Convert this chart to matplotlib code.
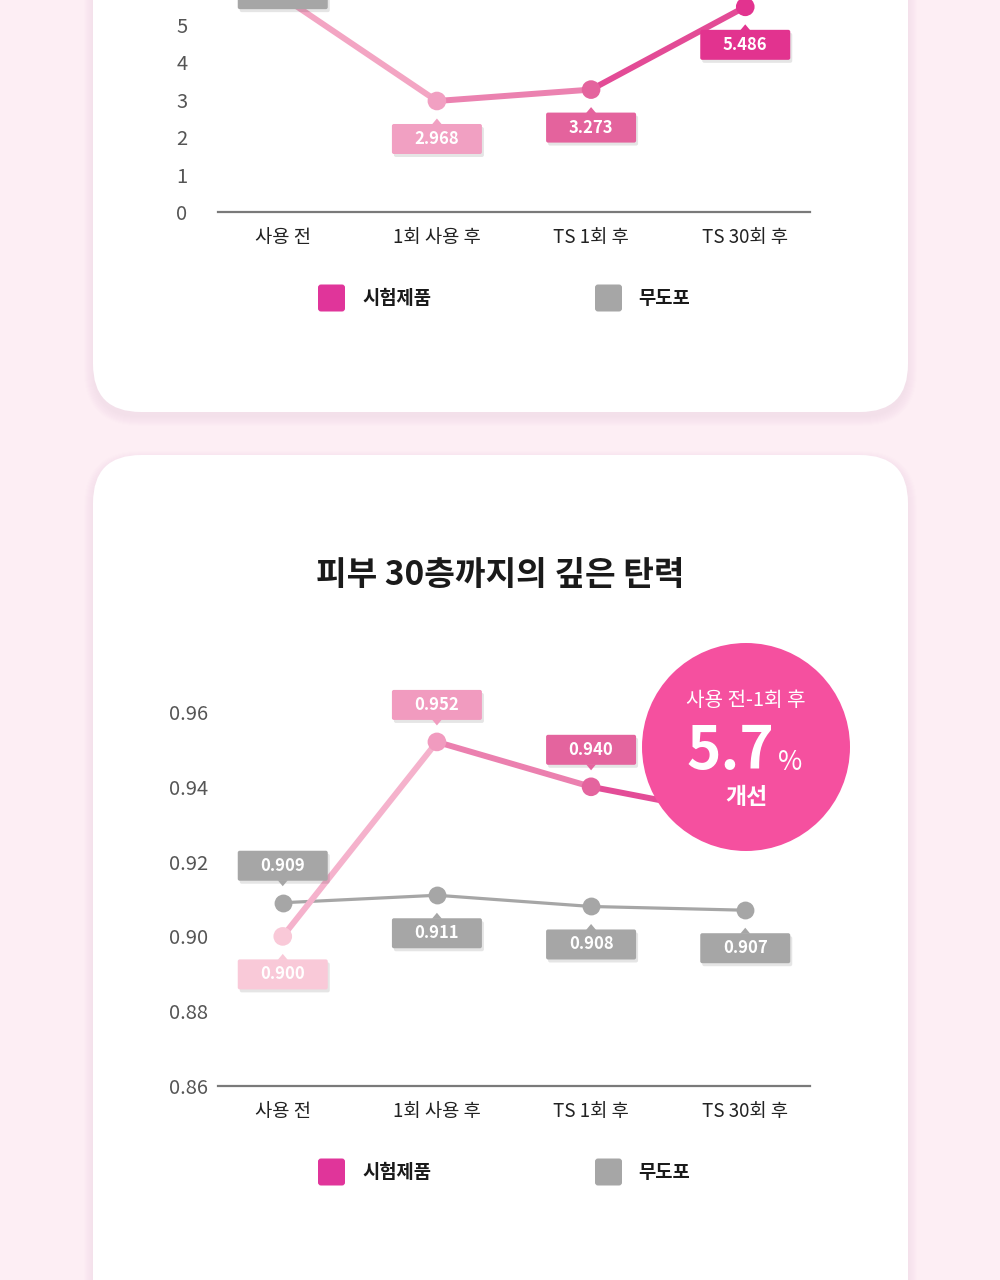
import numpy as np
import matplotlib.pyplot as plt
from matplotlib.patches import FancyBboxPatch, Polygon, Circle

plt.rcParams['font.family'] = ['Noto Sans CJK KR', 'DejaVu Sans']

W, H = 1000, 1280

# data
categories = ['사용 전', '1회 사용 후', 'TS 1회 후', 'TS 30회 후']
legend_labels = ['시험제품', '무도포']

# upper chart (cut off by the top edge of the picture)
top_product = [5.75, 2.968, 3.273, 5.486]
top_control = [6.841, np.nan, np.nan, np.nan]
top_yticks = [0, 1, 2, 3, 4, 5]

# lower chart
title = '피부 30층까지의 깊은 탄력'
bottom_product = [0.900, 0.952, 0.940, 0.932]
bottom_control = [0.909, 0.911, 0.908, 0.907]
bottom_yticks = [0.86, 0.88, 0.90, 0.92, 0.94, 0.96]

badge_top = '사용 전-1회 후'
badge_value = '5.7'
badge_bottom = '개선'

# colours
bg_color = '#fdeef4'
product_color = '#e0359a'
control_color = '#a6a6a6'
top_point_colors = ['#f4aac5', '#f1a0c2', '#e4639d', '#e2338f']
bottom_point_colors = ['#f9c9d8', '#f19bbf', '#e4649e', '#e2338f']
badge_color = '#f5509f'


def px_axes(x0, y0, x1, y1, **kw):
    # axes placed in pixel coords measured from the top-left corner
    return fig.add_axes([x0 / W, 1 - y1 / H, (x1 - x0) / W, (y1 - y0) / H], **kw)


fig = plt.figure(figsize=(W / 100, H / 100), dpi=100)
fig.patch.set_facecolor(bg_color)

# background cards
bg = px_axes(0, 0, W, H)
bg.set_xlim(0, W)
bg.set_ylim(H, 0)
bg.axis('off')


def card(y0, y1):
    for i in range(10):
        bg.add_patch(FancyBboxPatch((93 - i, y0 + 5 - i), 815 + 2 * i, y1 - y0 + 2 * i,
                                    boxstyle='round,pad=0,rounding_size=%d' % (48 + i),
                                    fc='#eebccd', ec='none', alpha=0.025))
    bg.add_patch(FancyBboxPatch((93, y0), 815, y1 - y0,
                                boxstyle='round,pad=0,rounding_size=48',
                                fc='white', ec='none'))


card(-150, 412)
card(455, 1330)

bg.text(500, 576, title, ha='center', va='center', fontsize=24, fontweight='bold', color='#1a1a1a')


def setup_axes(ax, ylim, yticks, labels, ypad):
    ax.set_facecolor('none')
    ax.set_xlim(-0.42, 3.42)
    ax.set_ylim(*ylim)
    ax.set_yticks(yticks)
    ax.set_yticklabels(labels, fontsize=14.5, color='#555555')
    ax.set_xticks(range(len(categories)))
    ax.set_xticklabels(categories, fontsize=13.5, color='#222222', fontweight='medium')
    ax.tick_params(axis='both', length=0)
    ax.tick_params(axis='x', pad=11)
    ax.tick_params(axis='y', pad=ypad)
    for s in ['top', 'left', 'right']:
        ax.spines[s].set_visible(False)
    ax.spines['bottom'].set_color('#7a7a7a')
    ax.spines['bottom'].set_linewidth(1.6)


def draw_lines(ax, product, control, point_colors):
    x = np.arange(len(categories))
    ax.plot(x, control, color=control_color, lw=2.3, zorder=2)
    ax.scatter(x, control, s=165, color=control_color, zorder=3, lw=0)
    for i in range(len(x) - 1):
        c = np.mean([np.array(plt.matplotlib.colors.to_rgb(point_colors[i])),
                     np.array(plt.matplotlib.colors.to_rgb(point_colors[i + 1]))], axis=0)
        ax.plot(x[i:i + 2], product[i:i + 2], color=c, lw=4.3, zorder=4, solid_capstyle='round')
    ax.scatter(x, product, s=180, c=point_colors, zorder=5, lw=0)


# upper chart: 0 at y=212, 37.4 px per unit
ax1 = px_axes(218, 212 - 7.5 * 37.4, 810, 212)
setup_axes(ax1, (0, 7.5), top_yticks, [str(t) for t in top_yticks], 22)
draw_lines(ax1, top_product, top_control, top_point_colors)

# lower chart: 0.86 at y=1086, 74.8 px per 0.02
ax2 = px_axes(218, 1086 - 6 * 74.8, 810, 1086)
setup_axes(ax2, (0.86, 0.98), bottom_yticks, ['%.2f' % t for t in bottom_yticks], 7)
draw_lines(ax2, bottom_product, bottom_control, bottom_point_colors)

# overlay for value tags, badge and legends
ov = px_axes(0, 0, W, H, zorder=10)
ov.set_xlim(0, W)
ov.set_ylim(H, 0)
ov.axis('off')


def tag(ax, i, value, color, side):
    if side is None or np.isnan(value):
        return
    px, py = ax.transData.transform((i, value))
    py = H - py
    w, h = 90, 30
    cy = py - 37 if side == 'up' else py + 38
    ov.add_patch(FancyBboxPatch((px - w / 2 + 2, cy - h / 2 + 3), w, h,
                                boxstyle='round,pad=0,rounding_size=2',
                                fc='#000000', alpha=0.10, ec='none'))
    ov.add_patch(FancyBboxPatch((px - w / 2, cy - h / 2), w, h,
                                boxstyle='round,pad=0,rounding_size=2', fc=color, ec='none'))
    if side == 'up':
        edge = cy + h / 2 - 0.5
        tip = edge + 6
    else:
        edge = cy - h / 2 + 0.5
        tip = edge - 6
    ov.add_patch(Polygon([(px - 5, edge), (px + 5, edge), (px, tip)], closed=True, fc=color, ec='none'))
    ov.text(px, cy, '%.3f' % value, ha='center', va='center', fontsize=12,
            fontweight='bold', color='white')


top_prod_side = ['up', 'down', 'down', 'down']
top_ctrl_side = ['down', None, None, None]
bot_prod_side = ['down', 'up', 'up', None]
bot_ctrl_side = ['up', 'down', 'down', 'down']

for i in range(len(categories)):
    tag(ax1, i, top_product[i], top_point_colors[i], top_prod_side[i])
    tag(ax1, i, top_control[i], control_color, top_ctrl_side[i])
    tag(ax2, i, bottom_product[i], bottom_point_colors[i], bot_prod_side[i])
    tag(ax2, i, bottom_control[i], control_color, bot_ctrl_side[i])

# legends
for ly in [298, 1172]:
    for (lx, tx), col, lab in zip([(318, 362), (595, 638)], [product_color, control_color], legend_labels):
        ov.add_patch(FancyBboxPatch((lx, ly - 13.5), 27, 27, boxstyle='round,pad=0,rounding_size=3',
                                    fc=col, ec='none'))
        ov.text(tx, ly, lab, ha='left', va='center', fontsize=13.5, fontweight='bold', color='#1a1a1a')

# badge
ov.add_patch(Circle((746, 747), 104, fc=badge_color, ec='none'))
ov.text(746, 700, badge_top, ha='center', va='center', fontsize=14.5, color='white')
ov.text(730, 752, badge_value, ha='center', va='center', fontsize=42, fontweight='heavy', color='white')
ov.text(790, 762, '%', ha='center', va='center', fontsize=19, color='white')
ov.text(746, 798, badge_bottom, ha='center', va='center', fontsize=16.5, fontweight='bold', color='white')

fig.savefig('out.png', dpi=100, facecolor=fig.get_facecolor())
